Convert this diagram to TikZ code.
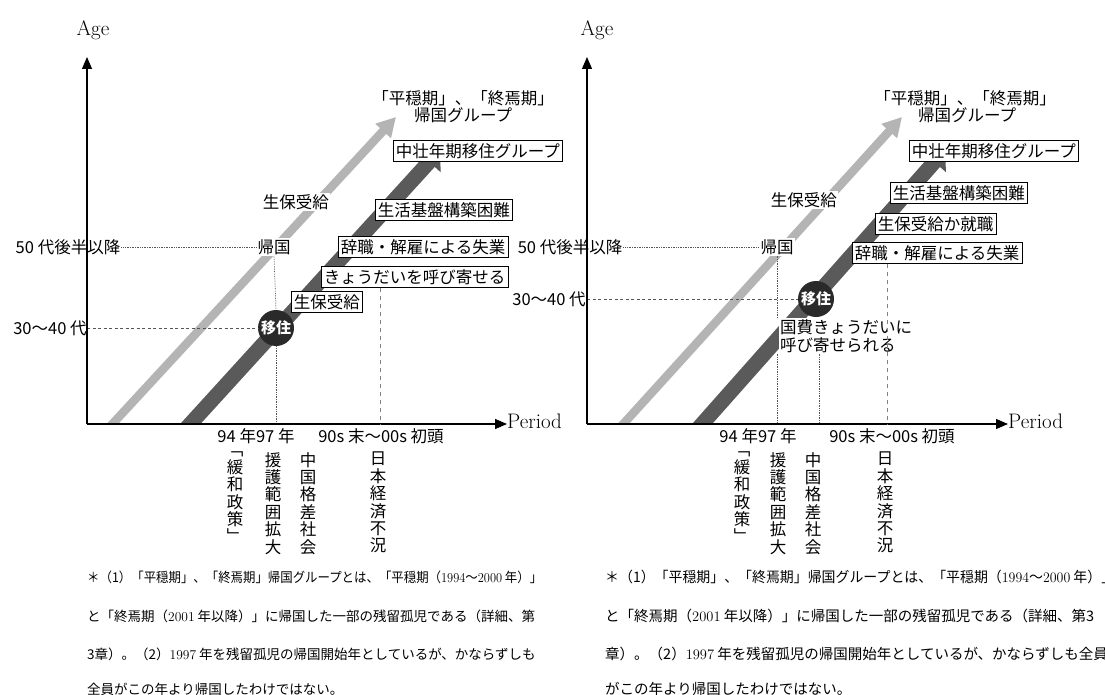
\documentclass[tikz,border=0pt]{standalone}
\usepackage{fontspec}
\newfontfamily\jp{Noto Sans CJK JP}
\usetikzlibrary{arrows.meta}
\definecolor{lightgr}{HTML}{B4B4B4}
\definecolor{darkgr}{HTML}{5A5A5A}
\definecolor{circ}{HTML}{2A2A2A}
\definecolor{guide}{HTML}{555555}
\newcommand{\rd}[1]{{\rmfamily #1}}
\begin{document}
\begin{tikzpicture}[x=1pt,y=-1pt,
  lbl/.style={font=\jp\fontsize{16.5}{18}\selectfont, inner sep=1pt},
  lblw/.style={lbl, fill=white},
  boxl/.style={lbl, draw, fill=white, inner sep=2.5pt, line width=0.9pt, anchor=west},
  axlbl/.style={font=\fontsize{21}{23}\selectfont, inner sep=0pt},
  axisarr/.style={line width=1.1pt, -{Triangle[length=12pt 0 0, width=10pt 0 0]}},
  lightarr/.style={line width=8.5pt, draw=lightgr, -{Triangle[length=19pt 0 0, width=20pt 0 0]}},
  darkarr/.style={line width=15pt, draw=darkgr, -{Triangle[length=16pt 0 0, width=30pt 0 0]}},
  dotg/.style={densely dotted, line width=0.7pt, draw=guide},
  dashg/.style={dash pattern=on 3pt off 2.5pt, line width=0.7pt, draw=guide},
  dashv/.style={dash pattern=on 4pt off 4pt, line width=0.8pt, draw=gray},
  mv/.style={circle, fill=circ, minimum size=36pt, inner sep=0pt, text=white, font=\jp\bfseries\fontsize{15}{15}\selectfont},
  vcol/.style={font=\jp\fontsize{16.5}{17.4}\selectfont, align=center, inner sep=0pt, anchor=north},
  footl/.style={font=\jp\fontsize{13.5}{14}\selectfont, inner sep=0pt, anchor=west},
  footr/.style={font=\jp\fontsize{14.5}{15}\selectfont, inner sep=0pt, anchor=west}
]
\useasboundingbox (0,0) rectangle (1105,695);
\clip (0,0) rectangle (1105,695);
\fill[white] (0,0) rectangle (1105,695);

%================ LEFT PANEL =================
\coordinate (LO) at (87,424);
\coordinate (LYt) at (87,57);
\coordinate (LXt) at (507,424);
\coordinate (L90) at (380,424);
\coordinate (L30a) at (87,328);
\coordinate (LLs) at (105,432);
\coordinate (LLe) at (396,117);
\coordinate (LDs) at (183,432);
\coordinate (LDe) at (440,150);

\node[lbl] (L50) at (68,247) {50 代後半以降};
\node[lbl] (L3040) at (50,328) {30〜40 代};

\begin{scope}
\clip (0,0) rectangle (1105,424);
\draw[lightarr] (LLs) -- (LLe);
\draw[darkarr] (LDs) -- (LDe);
\end{scope}

\node[lblw] (Lkikoku) at (274,247) {帰国};
\node[mv] (Lmove) at (276,328) {移住};

\draw[dotg] (L50.east) -- (Lkikoku.west);
\draw[dashg] (L30a) -- (Lmove.west);
\draw[dotg] (Lkikoku.south) -- (Lmove.north);
\draw[dotg] (Lmove.south) -- (Lmove.south |- LO);

\draw[axisarr] (LO) -- (LYt);
\draw[axisarr] (LO) -- (LXt);
\node[axlbl] (LAge) at (93,30) {Age};
\node[axlbl, anchor=west] (LPer) at (507,421) {Period};

\node[lbl] (Lheion1) at (463,98) {「平穏期」、「終焉期」};
\node[lbl] (Lheion2) at (463,115) {帰国グループ};
\node[boxl] (Lchusou) at (393,151) {中壮年期移住グループ};
\node[lblw, anchor=east] (Lseiho) at (330,202) {生保受給};
\node[boxl] (Lkiban) at (375,210) {生活基盤構築困難};
\node[boxl] (Ljishoku) at (338,247) {辞職・解雇による失業};
\node[boxl] (Lkyo) at (321,277) {きょうだいを呼び寄せる};
\node[boxl] (Lseiho2) at (291,302) {生保受給};
\draw[dashv] (L90 |- Lkyo.south) -- (L90);

\node[lbl] (L9497) at (256,436) {94 年97 年};
\node[lbl] (L90s) at (381,436) {90s 末〜00s 初頭};
\node[vcol] (Lv1) at (235,452) {﹁\\緩\\和\\政\\策\\﹂};
\node[vcol] (Lv2) at (273,452) {援\\護\\範\\囲\\拡\\大};
\node[vcol] (Lv3) at (308,452) {中\\国\\格\\差\\社\\会};
\node[vcol] (Lv4) at (378,452) {日\\本\\経\\済\\不\\況};

%================ RIGHT PANEL =================
\coordinate (RO) at (587,424);
\coordinate (RYt) at (587,57);
\coordinate (RXt) at (1008,424);
\coordinate (R819) at (819,424);
\coordinate (R887) at (887,424);
\coordinate (R30a) at (587,299);
\coordinate (RLs) at (616,432);
\coordinate (RLe) at (902,117);
\coordinate (RDs) at (695,432);
\coordinate (RDe) at (945,150);

\node[lbl] (R50) at (570,247) {50 代後半以降};
\node[lbl] (R3040) at (549,299) {30〜40 代};

\begin{scope}
\clip (0,0) rectangle (1105,424);
\draw[lightarr] (RLs) -- (RLe);
\draw[darkarr] (RDs) -- (RDe);
\end{scope}

\node[lblw] (Rkikoku) at (777,247) {帰国};
\node[mv] (Rmove) at (816,299) {移住};
\draw[dotg] (R50.east) -- (Rkikoku.west);
\draw[dashg] (R30a) -- (Rmove.west);

\node[lblw, anchor=west] (Rkok1) at (779,327) {国費きょうだいに};
\node[lblw, anchor=west] (Rkok2) at (779,345) {呼び寄せられる};
\draw[dotg] (Rkikoku.south) -- (Rkikoku.south |- Rkok1.north);
\draw[dotg] (Rkikoku.south |- Rkok2.south) -- (Rkikoku.south |- RO);
\draw[dotg] (R819 |- Rkok2.south) -- (R819);

\draw[axisarr] (RO) -- (RYt);
\draw[axisarr] (RO) -- (RXt);
\node[axlbl] (RAge) at (597,30) {Age};
\node[axlbl, anchor=west] (RPer) at (1008,421) {Period};

\node[lbl] (Rheion1) at (965,98) {「平穏期」、「終焉期」};
\node[lbl] (Rheion2) at (967,115) {帰国グループ};
\node[boxl] (Rchusou) at (909,151) {中壮年期移住グループ};
\node[lblw, anchor=east] (Rseiho) at (838,200) {生保受給};
\node[boxl] (Rkiban) at (890,193) {生活基盤構築困難};
\node[boxl] (Rseihoka) at (875,224) {生保受給か就職};
\node[boxl] (Rjishoku) at (852,253) {辞職・解雇による失業};
\draw[dashv] (R887 |- Rjishoku.south) -- (R887);

\node[lbl] (R9497) at (758,436) {94 年97 年};
\node[lbl] (R90s) at (892,436) {90s 末〜00s 初頭};
\node[vcol] (Rv1) at (742,452) {﹁\\緩\\和\\政\\策\\﹂};
\node[vcol] (Rv2) at (778,452) {援\\護\\範\\囲\\拡\\大};
\node[vcol] (Rv3) at (813,452) {中\\国\\格\\差\\社\\会};
\node[vcol] (Rv4) at (885,452) {日\\本\\経\\済\\不\\況};

%================ FOOTNOTES =================
\node[footl] (Lf1) at (87,577) {\scalebox{0.92}[1]{＊（1）「平穏期」、「終焉期」帰国グループとは、「平穏期（\rd{1994}〜\rd{2000} 年）」}};
\node[footl] (Lf2) at (87,616) {と「終焉期（\rd{2001} 年以降）」に帰国した一部の残留孤児である（詳細、第};
\node[footl] (Lf3) at (87,654) {3章）。（2）\rd{1997} 年を残留孤児の帰国開始年としているが、かならずしも};
\node[footl] (Lf4) at (87,689) {全員がこの年より帰国したわけではない。};
\node[footr] (Rf1) at (605,577) {\scalebox{0.96}[1]{＊（1）「平穏期」、「終焉期」帰国グループとは、「平穏期（\rd{1994}〜\rd{2000} 年）」}};
\node[footr] (Rf2) at (605,616) {と「終焉期（\rd{2001} 年以降）」に帰国した一部の残留孤児である（詳細、第3};
\node[footr] (Rf3) at (605,654) {章）。（2）\rd{1997} 年を残留孤児の帰国開始年としているが、かならずしも全員};
\node[footr] (Rf4) at (605,689) {がこの年より帰国したわけではない。};
\end{tikzpicture}
\end{document}
